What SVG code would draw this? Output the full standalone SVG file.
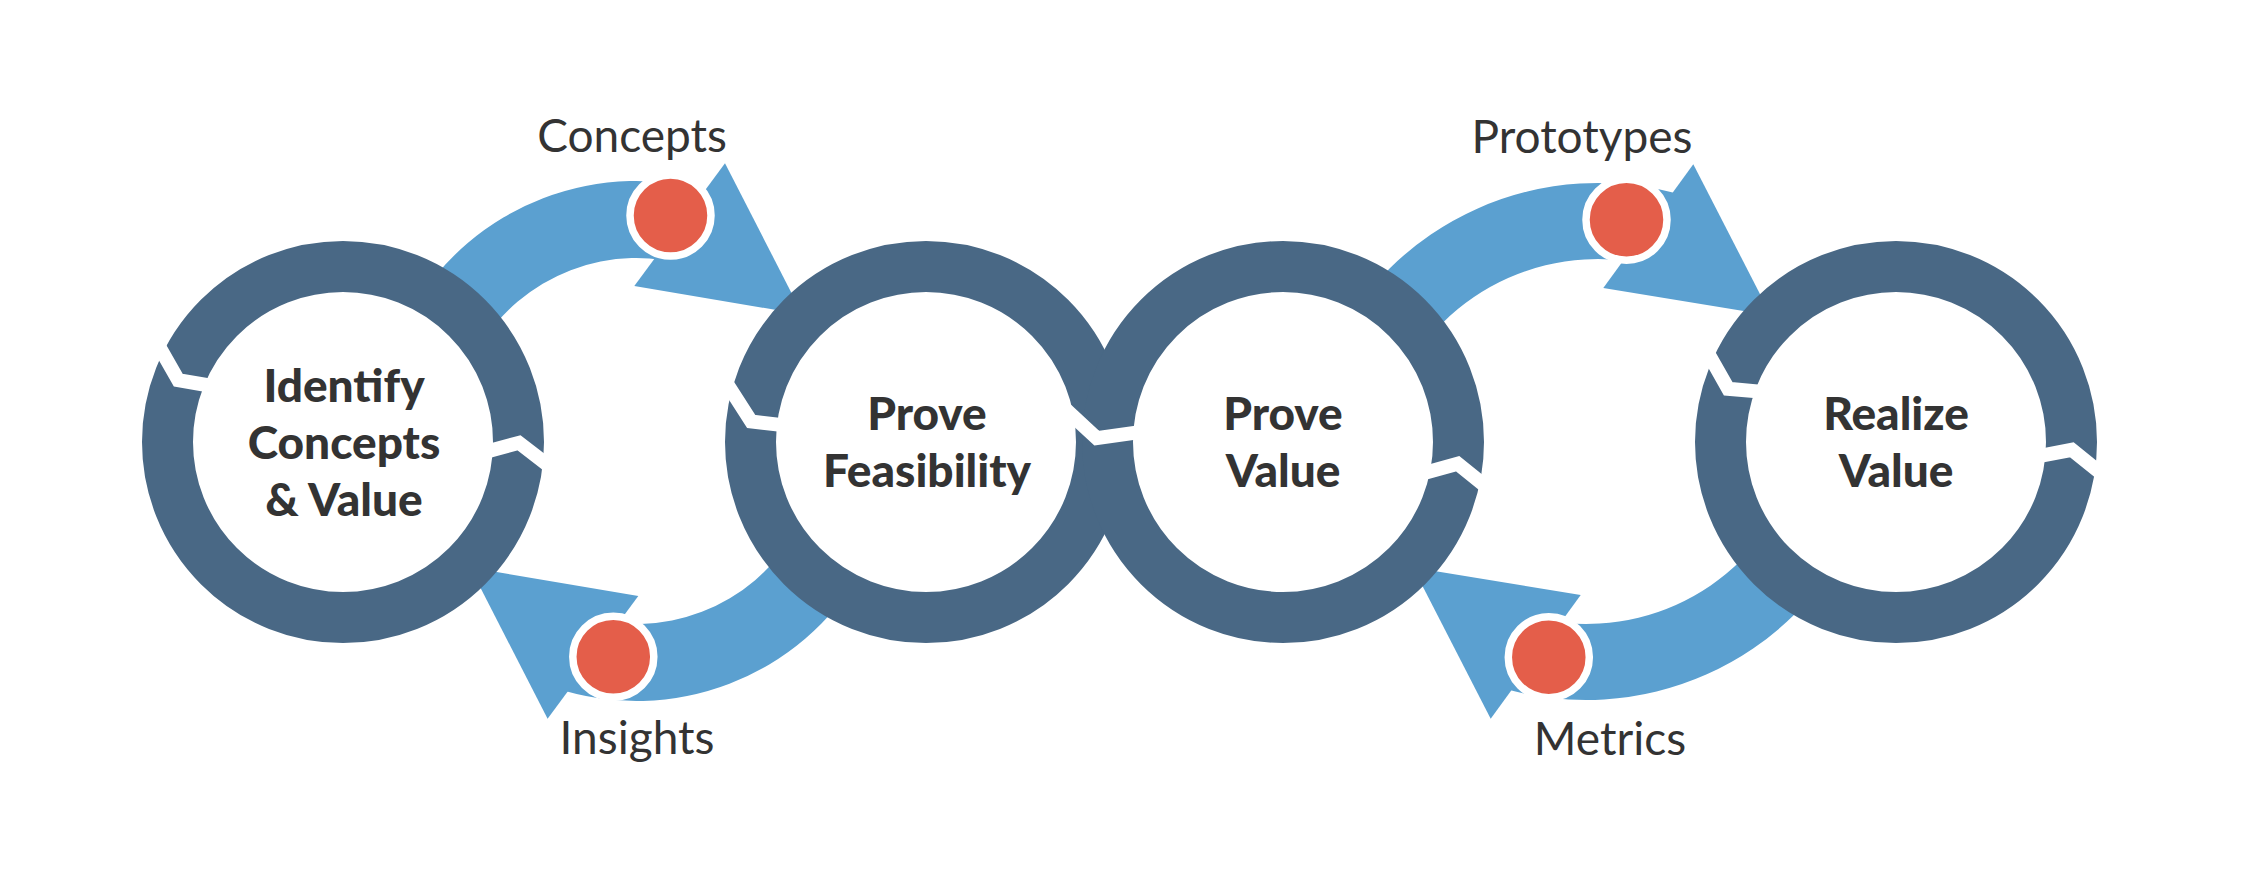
<svg xmlns="http://www.w3.org/2000/svg" width="2264" height="892" viewBox="0 0 2264 892">
<style>
.band{fill:#5ba0d0}
.ring{fill:#fff;stroke:#496885;stroke-width:51}
.notch{fill:none;stroke:#fff;stroke-width:14;stroke-linejoin:miter;stroke-linecap:butt}
.dot{fill:#e45e4a;stroke:#fff;stroke-width:7.5}
.lbl{font-family:Lato,"Noto Sans",sans-serif;font-size:46px;fill:#333;text-anchor:middle}
.ttl{font-family:Lato,"Noto Sans",sans-serif;font-size:46px;font-weight:900;fill:#333;text-anchor:middle}
</style>
<rect width="2264" height="892" fill="#fff"/>
<g id="connectors">
  <g id="conn-concepts">
    <path class="band" d="M411.13,311 A260,260 0 0 1 716.64,193.72 L692.85,266.96 A183,183 0 0 0 477.82,349.5 Z"/>
    <polygon class="band" points="725,163.3 634.3,286 802.5,314.4"/>
    <circle class="dot" cx="670.5" cy="215.5" r="40.5"/>
    <text class="lbl" x="632" y="152">Concepts</text>
  </g>
  <g id="conn-insights">
    <path class="band" d="M861.47,571 A260,260 0 0 1 555.96,688.28 L579.75,615.04 A183,183 0 0 0 794.78,532.5 Z"/>
    <polygon class="band" points="547.6,718.7 638.3,596 470.1,567.6"/>
    <circle class="dot" cx="613.3" cy="656.7" r="40.5"/>
    <text class="lbl" x="637" y="754">Insights</text>
  </g>
  <g id="conn-prototypes">
    <path class="band" d="M1328.83,354.49 A297,297 0 0 1 1684.84,195.98 L1662.62,268.66 A221,221 0 0 0 1397.71,386.61 Z"/>
    <polygon class="band" points="1693.3,164.3 1603.3,288 1771,315.4"/>
    <circle class="dot" cx="1626.5" cy="219.7" r="40.5"/>
    <text class="lbl" x="1582" y="153">Prototypes</text>
  </g>
  <g id="conn-metrics">
    <path class="band" d="M1855.17,528.51 A297,297 0 0 1 1499.16,687.02 L1521.38,614.34 A221,221 0 0 0 1786.29,496.39 Z"/>
    <polygon class="band" points="1490.7,718.7 1580.7,595 1413,567.6"/>
    <circle class="dot" cx="1548.8" cy="657.2" r="40.5"/>
    <text class="lbl" x="1610" y="755">Metrics</text>
  </g>
</g>
<g id="node-identify">
  <circle class="ring" cx="343" cy="442" r="175.5"/>
  <polyline class="notch" points="158.8,346 178.3,380.1 212.3,386"/>
  <polyline class="notch" points="485.1,452.1 519,442.8 549.4,466.2"/>
  <text class="ttl" x="344" y="402">Identify</text>
  <text class="ttl" x="344" y="459">Concepts</text>
  <text class="ttl" x="344" y="516">&amp; Value</text>
</g>
<g id="node-feasibility">
  <circle class="ring" cx="926" cy="442" r="175.5"/>
  <polyline class="notch" points="727.3,384.3 751.2,421.5 784.9,425.4"/>
  <text class="ttl" x="927" y="430">Prove</text>
  <text class="ttl" x="927" y="487">Feasibility</text>
</g>
<g id="node-prove-value">
  <circle class="ring" cx="1283" cy="442" r="175.5"/>
  <polyline class="notch" points="1062,406 1096.7,438.2 1145,431.4"/>
  <polyline class="notch" points="1422.4,473.4 1457.7,463.8 1486.2,486.7"/>
  <text class="ttl" x="1283" y="430">Prove</text>
  <text class="ttl" x="1283" y="487">Value</text>
</g>
<g id="node-realize">
  <circle class="ring" cx="1896" cy="442" r="175.5"/>
  <polyline class="notch" points="1708.3,353.6 1728.2,388.8 1762.9,391.9"/>
  <polyline class="notch" points="2037.5,456.4 2071.8,449.8 2101.4,473.6"/>
  <text class="ttl" x="1896" y="430">Realize</text>
  <text class="ttl" x="1896" y="487">Value</text>
</g>
</svg>
